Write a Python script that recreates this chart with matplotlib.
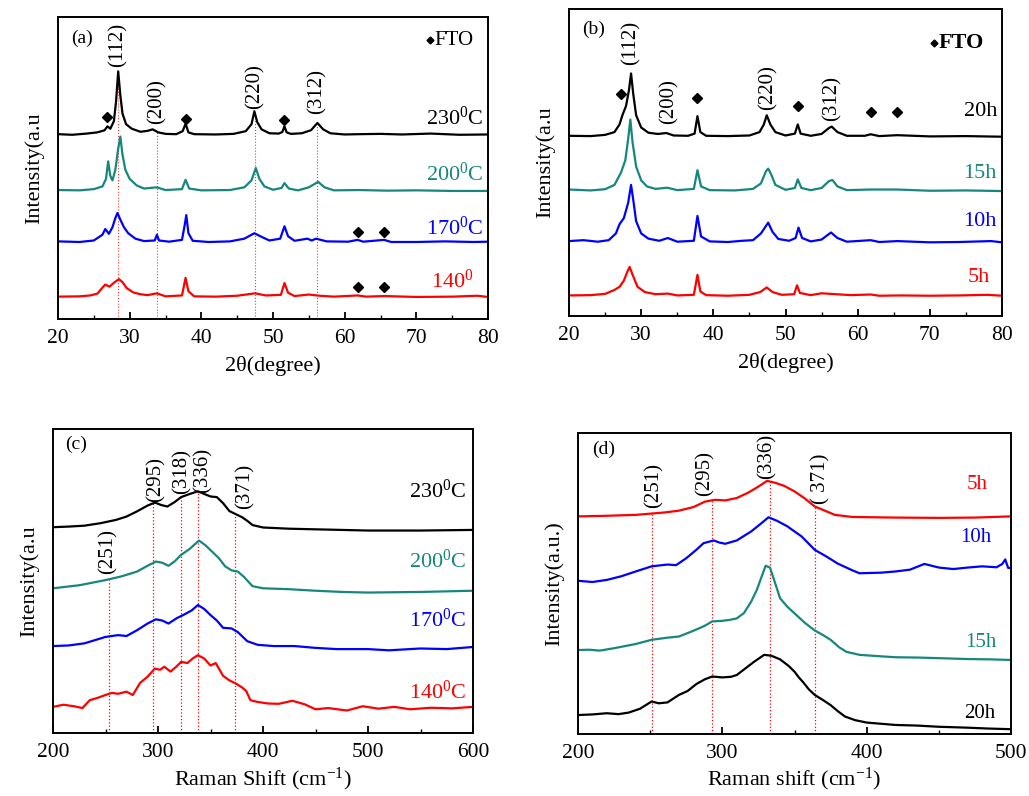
import numpy as np
import matplotlib
matplotlib.use("Agg")
import matplotlib.pyplot as plt
from matplotlib.ticker import MultipleLocator

plt.rcParams['font.family'] = ['Liberation Serif', 'DejaVu Serif']
plt.rcParams['mathtext.fontset'] = 'custom'
plt.rcParams['mathtext.rm'] = 'Liberation Serif'
plt.rcParams['mathtext.it'] = 'Liberation Serif:italic'

TEAL = '#16877d'
COLORS = ['black', TEAL, 'blue', 'red']

# ---------- (a) XRD vs temperature, (2theta, relative intensity) ----------
a_230 = [(20, 0.2), (22, 0), (24, 0.4), (25.5, 0.8), (26.5, 1.5), (26.9, 2.8), (27.3, 2.0), (27.8, 4.5),
         (28.1, 11), (28.4, 21), (28.7, 13), (29.0, 7), (29.5, 3.5), (30.3, 2.0), (31.5, 1.0), (32.5, 1.3),
         (33.2, 1.8), (34.0, 0.8), (35, 0.3), (36.5, 0.2), (37.4, 1.2), (37.8, 3.7), (38.2, 0.8), (39, 0.2),
         (42, 0.1), (44.5, 0.3), (46.2, 1.2), (47.0, 3.5), (47.4, 7.8), (47.8, 4.2), (48.4, 1.8), (49.5, 0.5),
         (50.8, 0.4), (51.3, 0.9), (51.6, 2.8), (51.9, 0.8), (52.5, 0.3), (54.0, 0.5), (55.3, 1.5), (56.2, 3.9),
         (57.0, 1.8), (58.0, 0.5), (60, 0.1), (62, 0.2), (65, 0.3), (68, 0.1), (72, 0.4), (76, 0), (80, 0.1)]
a_200 = [(20, 0.3), (23, 0.2), (25, 0.6), (26.2, 1.5), (26.7, 4), (27.0, 9.8), (27.3, 5), (27.6, 3.5),
         (28.0, 7), (28.4, 14), (28.7, 18), (29.0, 12), (29.4, 7), (30, 4), (31, 1.8), (32, 0.8), (33.8, 1.2),
         (35, 0.3), (37.3, 0.6), (37.8, 3.7), (38.3, 0.8), (40, 0.2), (44, 0.3), (46, 1.2), (47.0, 3.5),
         (47.6, 7.6), (48.1, 4), (48.8, 1.5), (50, 0.4), (51.2, 1), (51.6, 2.6), (52.2, 0.8), (53.5, 0.2),
         (55, 1.2), (56.3, 3.0), (57.2, 1.2), (58.5, 0.2), (62, 0.3), (66, 0.1), (70, 0.2), (75, 0), (80, 0)]
a_170 = [(20, 0.3), (23, 0.1), (25, 0.6), (26.2, 2.5), (26.6, 4.4), (27.1, 2.8), (27.6, 5), (28.0, 8),
         (28.3, 9.7), (28.7, 7.5), (29.2, 5), (29.8, 3), (30.8, 1.2), (32, 0.4), (33.5, 0.6), (33.8, 2.5),
         (34.1, 0.6), (35.5, 0.2), (37.3, 0.8), (37.7, 6), (37.9, 9), (38.2, 3), (38.8, 0.5), (41, 0.1),
         (44, 0.3), (46, 1.2), (47.4, 3.0), (48.4, 1.8), (49.5, 0.6), (51.0, 1.2), (51.6, 5.3), (52.1, 2),
         (53, 0.5), (54.8, 1.2), (55.4, 0.6), (56.0, 1.2), (57.5, 0.3), (60.5, 0.2), (61.8, 0.8), (62.6, 0.2),
         (65.5, 0.8), (66.5, 0.1), (70, 0.1), (74, 0.3), (78, 0.1), (80, 0.2)]
a_140 = [(20, 0.2), (23, 0.3), (24.5, 0.6), (25.5, 1.2), (26.2, 3.2), (26.6, 4.2), (27.2, 3.5), (27.8, 4.8),
         (28.5, 6.0), (29.0, 5), (29.6, 3), (30.5, 1.6), (31.5, 1.0), (32.5, 0.7), (33.8, 1.3), (35, 0.3),
         (37.3, 0.6), (37.8, 6.4), (38.2, 2), (39, 0.3), (42, 0.2), (45, 0.5), (47.5, 1.3), (49, 0.6),
         (51.1, 0.8), (51.6, 4.7), (52.1, 1.5), (53, 0.4), (55, 0.9), (56.5, 0.5), (58.5, 0.2), (61.8, 0.6),
         (63, 0.2), (65.5, 0.4), (70, 0.1), (75, 0.2), (78.5, 0.5), (80, 0.1)]
a_offsets = [61, 42.4, 25.4, 7.2]
a_labels = ['230$^\\mathregular{0}$C', '200$^\\mathregular{0}$C', '170$^\\mathregular{0}$C', '140$^\\mathregular{0}$']
a_label_y = [66.5, 47.8, 30.1, 12.5]
a_label_x = [79.3, 79.3, 79.3, 78.0]
a_hkl = ['(112)', '(200)', '(220)', '(312)']
a_hkl_x = [28.4, 33.8, 47.5, 56.2]
a_hkl_y = [90.8, 72, 77, 75.4]
a_line_top = [80, 61.8, 68, 64]
a_fto = [(26.8, 67), (37.8, 66.3), (51.6, 66), (61.8, 28.8), (65.5, 28.8), (61.8, 10.6), (65.5, 10.6)]

# ---------- (b) XRD vs time ----------
b_20 = [(20, 0.3), (23, 0.2), (25, 0.6), (26.3, 1.5), (27.0, 4), (27.4, 7), (27.9, 10), (28.3, 15),
        (28.6, 20.6), (28.9, 14), (29.3, 7), (30.0, 3), (31.0, 1.3), (32.3, 0.9), (33.5, 1.2), (34.5, 0.4),
        (36.5, 0.3), (37.4, 1), (37.8, 6.7), (38.2, 1.5), (39, 0.3), (42, 0.2), (45, 0.4), (46.4, 1.5),
        (47.0, 4), (47.4, 7), (47.9, 4), (48.6, 1.5), (50, 0.4), (51.3, 1), (51.7, 4), (52.1, 1), (53.5, 0.3),
        (55, 0.9), (56.0, 2.8), (56.4, 3.3), (57.2, 1.5), (58.5, 0.3), (61, 0.3), (61.8, 0.8), (63, 0.2),
        (65.5, 0.5), (70, 0.1), (75, 0.2), (80, 0)]
b_15 = [(20, 0.5), (23, 0.2), (25, 0.6), (26.3, 2), (27.2, 6), (27.8, 10), (28.2, 17), (28.5, 23.3),
        (28.8, 16), (29.3, 8), (30.0, 3.5), (30.8, 1.5), (32, 0.7), (33.6, 1.1), (35, 0.3), (37.3, 0.7),
        (37.8, 6.8), (38.3, 1.5), (39.5, 0.3), (43, 0.2), (45.5, 0.7), (46.6, 2.5), (47.3, 6.5), (47.6, 7.3),
        (48.0, 5.5), (48.6, 2), (50, 0.4), (51.3, 1), (51.7, 3.8), (52.2, 1), (53.5, 0.3), (55, 1),
        (56.0, 3.2), (56.5, 3.6), (57.2, 1.5), (58.5, 0.3), (61.8, 0.5), (65.5, 0.5), (70, 0.1), (75, 0.2), (80, 0)]
b_10 = [(20, 0.5), (22, 0.8), (24, 0.3), (25.5, 0.8), (26.5, 3), (27.0, 6), (27.6, 8), (28.2, 13),
        (28.6, 18.8), (28.9, 14), (29.3, 7), (30.0, 3), (31, 1.3), (32.5, 0.6), (33.7, 1.5), (35, 0.3),
        (37.3, 0.6), (37.8, 8.7), (38.3, 2), (39.5, 0.4), (42, 0.2), (44, 0.6), (45.5, 0.8), (46.6, 3),
        (47.6, 6.5), (48.2, 3.5), (49, 1.2), (50.5, 0.6), (51.4, 1.5), (51.8, 4.9), (52.3, 1.5), (53.5, 0.4),
        (55, 1), (56.3, 3.3), (57.2, 1.5), (58.5, 0.3), (61.8, 0.8), (63, 0.2), (65.5, 0.5), (70, 0.1),
        (74, 0.2), (78.5, 0.5), (80, 0.1)]
b_5 = [(20, 0.2), (23, 0.3), (25, 0.7), (26.3, 2), (27.0, 3), (27.6, 5), (28.1, 8), (28.4, 9.5), (28.8, 7),
       (29.5, 3), (30.5, 1.3), (32, 0.6), (33.7, 0.8), (35, 0.2), (37.3, 0.4), (37.8, 6.9), (38.2, 1.5),
       (39, 0.3), (42, 0.1), (45, 0.4), (46.5, 1.3), (47.4, 2.8), (48.2, 1.3), (49.5, 0.4), (51.2, 0.6),
       (51.6, 3.5), (52.0, 1), (53.5, 0.3), (55, 0.9), (57, 0.6), (59, 0.3), (61.8, 0.5), (63, 0.1),
       (66, 0.2), (70, 0.1), (74, 0.2), (78, 0.4), (80, 0.1)]
b_offsets = [58.4, 40.7, 23.9, 6.5]
b_labels = ['20h', '15h', '10h', '5h']
b_label_y = [66.6, 46.5, 30.7, 12.5]
b_label_x = [79.3, 79.3, 79.3, 78.3]
b_hkl = ['(112)', '(200)', '(220)', '(312)']
b_hkl_x = [28.6, 33.8, 47.6, 56.5]
b_hkl_y = [88.8, 70, 74.5, 71]
b_fto = [(27.2, 72.3), (37.8, 71.1), (51.7, 68.4), (61.8, 66.3), (65.5, 66.3)]

# ---------- (c) Raman vs temperature, (shift, intensity) ----------
c_230 = [(200, 67.7), (215, 67.9), (230, 68.2), (245, 69), (260, 70.1), (270, 71.2), (280, 72.9), (290, 74.8),
         (297, 75.8), (303, 75), (309, 74.5), (316, 76), (322, 77.6), (330, 78.6), (338, 79.5), (345, 78.5),
         (350, 77.8), (356, 77.6), (362, 75.6), (368, 73), (374, 72), (380, 71), (385, 69.8), (390, 68.4),
         (400, 67.6), (425, 67.2), (450, 67), (475, 66.8), (500, 66.6), (550, 66.6), (600, 66.8)]
c_200 = [(200, 47.6), (225, 48.6), (250, 50.3), (265, 51.5), (280, 53.1), (290, 55), (298, 56.4), (304, 56),
         (310, 55), (316, 56.5), (322, 58.6), (330, 60.5), (339, 63.3), (345, 61.8), (352, 59.5), (358, 57.5),
         (364, 54.8), (370, 53.5), (376, 53.1), (382, 51.3), (390, 48.3), (400, 47.6), (425, 47.3), (450, 46.8),
         (475, 46.4), (500, 46.2), (550, 46.4), (600, 46.8)]
c_170 = [(200, 28.6), (215, 28.8), (230, 29.5), (250, 31.6), (262, 32.2), (270, 31.9), (280, 33.8), (290, 36),
         (298, 37.4), (304, 37), (310, 36), (318, 37.8), (324, 38.8), (332, 40.3), (338, 42.1), (344, 40.8),
         (350, 38.8), (356, 37), (362, 34.6), (370, 34.4), (376, 33.2), (385, 30.2), (395, 29), (410, 28.6),
         (430, 28.6), (450, 28), (470, 27.6), (500, 27.6), (520, 27.2), (550, 27.8), (575, 27.6), (600, 28.3)]
c_140 = [(200, 8.6), (210, 9.3), (220, 8.8), (228, 8.2), (235, 10.8), (242, 11.5), (250, 12.5), (256, 13.2),
         (262, 12.9), (270, 13.6), (276, 12.5), (283, 16.5), (290, 18.5), (297, 21.2), (302, 20.8), (306, 21.8),
         (312, 20.2), (318, 22), (322, 23.4), (328, 23), (333, 24.5), (338, 25.6), (344, 24.5), (350, 22.2),
         (355, 23), (362, 18.8), (368, 17.3), (374, 16.3), (380, 15), (384, 13.8), (388, 10.8), (395, 10.2),
         (405, 9.7), (415, 9.6), (428, 10.6), (440, 9.4), (450, 7.8), (462, 8.2), (480, 7.4), (495, 8.8),
         (510, 8), (525, 8.6), (540, 7.8), (560, 8.3), (580, 8.1), (600, 8.6)]
c_labels = a_labels[:3] + ['140$^\\mathregular{0}$C']
c_label_y = [79.5, 56.4, 37.1, 13.5]
c_hkl = ['(251)', '(295)', '(318)', '(336)', '(371)']
c_hkl_x = [252, 298, 323, 343, 382.5]
c_hkl_y = [59.7, 83.3, 86, 86.4, 81]
c_line_x = [253, 295, 321.5, 338.5, 373.5]
c_line_top = [50.3, 75.6, 77.8, 79.1, 72]

# ---------- (d) Raman vs time ----------
d_5 = [(200, 72.3), (220, 72.5), (240, 72.8), (260, 73.6), (270, 74.2), (280, 75.4), (288, 77.2), (295, 77.8),
       (302, 77.6), (310, 78.4), (318, 80.2), (325, 82.2), (331, 84.1), (337, 83.4), (343, 82.4), (350, 80.6),
       (357, 78.3), (364, 75.6), (370, 74.4), (378, 72.8), (390, 72.1), (420, 71.9), (450, 71.8), (475, 71.9),
       (500, 72.3)]
d_10 = [(200, 50.9), (210, 50.5), (220, 51.2), (230, 52.4), (240, 54), (251, 55.7), (262, 56.3), (268, 56.1),
        (275, 58.4), (282, 61.2), (287, 63.4), (294, 64.3), (298, 63.6), (302, 63.2), (310, 64.3), (320, 67.3),
        (327, 70), (332, 72), (338, 70.8), (345, 69), (355, 65.6), (364, 61.2), (372, 59), (380, 56.6),
        (390, 54.4), (395, 53.4), (410, 53.6), (420, 54), (430, 54.6), (440, 56.5), (450, 55.3), (460, 54.8),
        (470, 55.3), (480, 55.7), (490, 55.4), (494, 56.5), (496, 58), (498, 55.2), (500, 55.1)]
d_15 = [(200, 27.9), (208, 28), (215, 27.7), (225, 28.5), (240, 29.9), (251, 31.3), (262, 32), (270, 32.4),
        (280, 34.3), (288, 36), (293, 37.4), (300, 37.6), (305, 37.9), (310, 38.4), (315, 40.2), (320, 44),
        (324, 48), (327, 52), (330, 55.9), (333, 55.3), (336, 51), (340, 45.1), (345, 42.3), (350, 40.1),
        (357, 37), (364, 34.4), (370, 32.8), (375, 31.3), (381, 28.8), (386, 27.3), (395, 26.3), (410, 25.8),
        (420, 25.5), (435, 25.4), (450, 25.2), (470, 24.9), (485, 24.8), (500, 24.6)]
d_20 = [(200, 6.3), (210, 6.5), (220, 6.9), (228, 6.6), (235, 7.1), (243, 8.4), (251, 10.8), (256, 10.2),
        (262, 10.5), (270, 13), (276, 14.3), (282, 16.6), (288, 18.2), (293, 19.1), (300, 18.8), (306, 19),
        (310, 19.6), (316, 21.8), (322, 24), (329, 26.3), (334, 26), (340, 24.8), (346, 22.6), (350, 20.7),
        (353, 18.8), (356, 17.2), (360, 14.8), (364, 13), (370, 11.2), (375, 9.6), (380, 7.6), (385, 5.8),
        (392, 4.6), (400, 3.8), (410, 3.4), (420, 3), (435, 2.8), (450, 2.4), (470, 2.1), (485, 1.8), (500, 1.6)]
d_colors = ['red', 'blue', TEAL, 'black']
d_labels = ['5h', '10h', '15h', '20h']
d_label_x = [484, 486.6, 490, 489]
d_label_y = [82.8, 65.4, 30.4, 6.9]
d_hkl = ['(251)', '(295)', '(336)', '( 371)']
d_hkl_x = [252.4, 288, 331, 368]
d_hkl_y = [82.5, 86.5, 92.2, 84.7]
d_line_x = [251, 293, 333, 364]
d_line_top = [73, 77.6, 84, 75.6]

FS = 15
LW = 1.6
W, H = 1029, 796


def box(l, r, t, b):
    return [l / W, 1 - b / H, (r - l) / W, (b - t) / H]


def style_axes(ax, xlim, major, minor):
    ax.set_xlim(*xlim)
    ax.set_ylim(0, 100)
    ax.set_yticks([])
    ax.xaxis.set_major_locator(MultipleLocator(major))
    ax.xaxis.set_minor_locator(MultipleLocator(minor))
    ax.tick_params(axis='x', which='major', direction='in', length=5, width=1.3,
                   labelsize=FS + 0.5, top=False, pad=7)
    ax.tick_params(axis='x', which='minor', direction='in', length=3, width=1.0, top=False)
    for s in ax.spines.values():
        s.set_linewidth(1.4)


def pts(p):
    arr = np.array(p, dtype=float)
    return arr[:, 0], arr[:, 1]


fig = plt.figure(figsize=(W / 100, H / 100), dpi=100)

# (a)
ax = fig.add_axes(box(58, 488, 17, 319))
for x0, top in zip(a_hkl_x, a_line_top):
    ax.plot([x0, x0], [0, top], color='red', ls=':', lw=0.8, alpha=0.8)
for curve, off, c in zip([a_230, a_200, a_170, a_140], a_offsets, COLORS):
    x, y = pts(curve)
    ax.plot(x, y + off, color=c, lw=LW)
for t, x0, y0 in zip(a_hkl, a_hkl_x, a_hkl_y):
    ax.text(x0, y0, t, rotation=90, ha='center', va='center', fontsize=FS)
fx, fy = pts(a_fto)
ax.plot(fx, fy, 'kD', ms=5)
for t, x0, y0, c in zip(a_labels, a_label_x, a_label_y, COLORS):
    ax.text(x0, y0, t, color=c, ha='right', va='center', fontsize=FS + 1)
ax.plot([71.9], [92.3], 'kD', ms=3.5)
ax.text(72.5, 92.3, 'FTO', ha='left', va='center', fontsize=FS)
ax.text(0.03, 0.93, '(a)', transform=ax.transAxes, ha='left', va='center', fontsize=FS - 1)
style_axes(ax, (20, 80), 10, 5)
ax.set_xlabel('2θ(degree)', fontsize=FS + 1, labelpad=6)
ax.set_ylabel('Intensity(a.u', fontsize=FS + 1, labelpad=10)

# (b)
ax = fig.add_axes(box(569, 1002, 9, 316))
for curve, off, c in zip([b_20, b_15, b_10, b_5], b_offsets, COLORS):
    x, y = pts(curve)
    ax.plot(x, y + off, color=c, lw=LW)
for t, x0, y0 in zip(b_hkl, b_hkl_x, b_hkl_y):
    ax.text(x0, y0, t, rotation=90, ha='center', va='center', fontsize=FS)
fx, fy = pts(b_fto)
ax.plot(fx, fy, 'kD', ms=5)
for t, x0, y0, c in zip(b_labels, b_label_x, b_label_y, COLORS):
    ax.text(x0, y0, t, color=c, ha='right', va='center', fontsize=FS + 1)
ax.plot([70.6], [88.8], 'kD', ms=3.5)
ax.text(71.2, 88.8, 'FTO', ha='left', va='center', fontsize=FS + 1, fontweight='bold')
ax.text(0.03, 0.935, '(b)', transform=ax.transAxes, ha='left', va='center', fontsize=FS - 1)
style_axes(ax, (20, 80), 10, 5)
ax.set_xlabel('2θ(degree)', fontsize=FS + 1, labelpad=6)
ax.set_ylabel('Intensity(a.u', fontsize=FS + 1, labelpad=10)

# (c)
ax = fig.add_axes(box(53, 473, 429, 733))
for x0, top in zip(c_line_x, c_line_top):
    ax.plot([x0, x0], [0, top], color='red', ls=':', lw=0.9)
for curve, c in zip([c_230, c_200, c_170, c_140], COLORS):
    x, y = pts(curve)
    ax.plot(x, y, color=c, lw=LW)
for t, x0, y0 in zip(c_hkl, c_hkl_x, c_hkl_y):
    ax.text(x0, y0, t, rotation=90, ha='center', va='center', fontsize=FS)
for t, y0, c in zip(c_labels, c_label_y, COLORS):
    ax.text(594, y0, t, color=c, ha='right', va='center', fontsize=FS + 1)
ax.text(0.03, 0.95, '(c)', transform=ax.transAxes, ha='left', va='center', fontsize=FS - 1)
style_axes(ax, (200, 600), 100, 50)
ax.set_xlabel('Raman Shift (cm$^{\\mathregular{-1}}$)', fontsize=FS + 1, labelpad=3)
ax.set_ylabel('Intensity(a.u', fontsize=FS + 1, labelpad=10)

# (d)
ax = fig.add_axes(box(578, 1011, 433, 734))
for x0, top in zip(d_line_x, d_line_top):
    ax.plot([x0, x0], [0, top], color='red', ls=':', lw=0.9)
for curve, c in zip([d_5, d_10, d_15, d_20], d_colors):
    x, y = pts(curve)
    ax.plot(x, y, color=c, lw=LW)
for t, x0, y0 in zip(d_hkl, d_hkl_x, d_hkl_y):
    ax.text(x0, y0, t, rotation=90, ha='center', va='center', fontsize=FS)
for t, x0, y0, c in zip(d_labels, d_label_x, d_label_y, d_colors):
    ax.text(x0, y0, t, color=c, ha='right', va='center', fontsize=FS)
ax.text(0.033, 0.947, '(d)', transform=ax.transAxes, ha='left', va='center', fontsize=FS - 1)
style_axes(ax, (200, 500), 100, 50)
ax.set_xlabel('Raman shift (cm$^{\\mathregular{-1}}$)', fontsize=FS + 1, labelpad=2)
ax.set_ylabel('Intensity(a.u.)', fontsize=FS + 1, labelpad=10)

fig.savefig('out.png', dpi=100)
